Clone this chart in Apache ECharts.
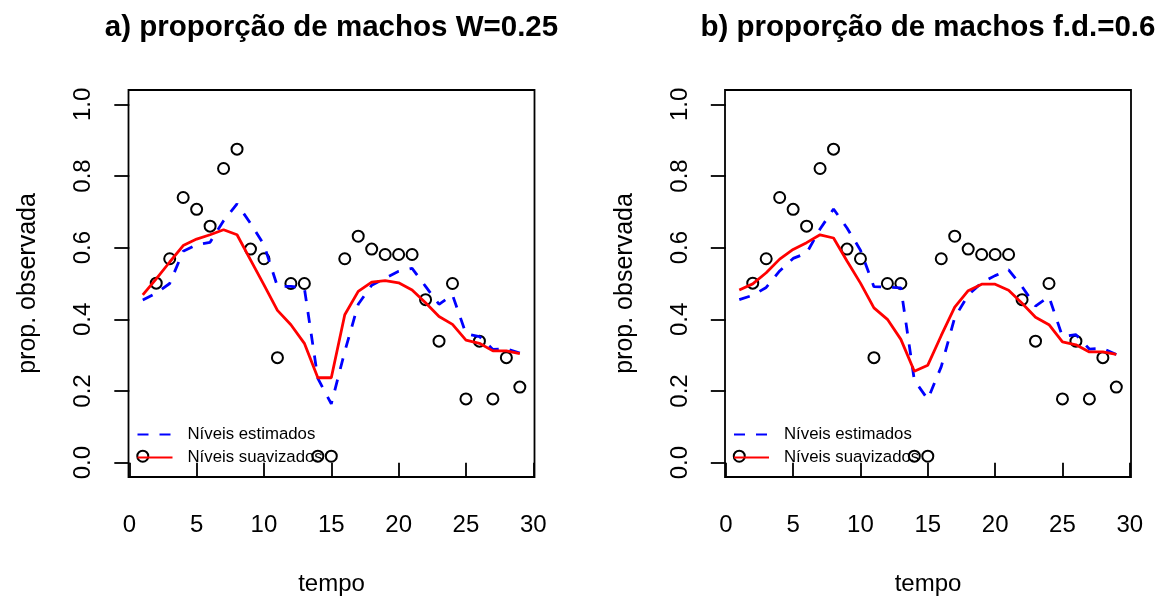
<!DOCTYPE html>
<html>
<head>
<meta charset="utf-8">
<script src="https://cdn.jsdelivr.net/npm/echarts@6/dist/echarts.min.js"></script>
<style>
html,body{margin:0;padding:0;background:#fff;}
#c{width:1159px;height:602px;}
</style>
</head>
<body>
<div id="c"></div>
<script>
// ---- data ----
const tempo = [1,2,3,4,5,6,7,8,9,10,11,12,13,14,15,16,17,18,19,20,21,22,23,24,25,26,27,28,29];
const observada = [0.018,0.501,0.569,0.740,0.707,0.660,0.821,0.875,0.596,0.569,0.293,0.500,0.500,0.018,0.018,0.569,0.632,0.596,0.581,0.581,0.581,0.455,0.339,0.500,0.178,0.339,0.178,0.293,0.211];
const estimadosA = [0.454,0.473,0.500,0.590,0.608,0.615,0.675,0.722,0.668,0.608,0.492,0.492,0.487,0.235,0.164,0.310,0.442,0.495,0.515,0.534,0.542,0.492,0.442,0.468,0.360,0.352,0.316,0.318,0.306];
const suavizadosA = [0.468,0.513,0.560,0.606,0.624,0.636,0.650,0.636,0.566,0.496,0.425,0.385,0.333,0.237,0.237,0.413,0.478,0.504,0.508,0.502,0.482,0.446,0.408,0.386,0.342,0.333,0.312,0.312,0.304];
const estimadosB = [0.455,0.467,0.489,0.535,0.570,0.585,0.652,0.708,0.655,0.593,0.491,0.490,0.488,0.230,0.177,0.268,0.405,0.468,0.502,0.522,0.538,0.491,0.437,0.463,0.352,0.357,0.317,0.319,0.302];
const suavizadosB = [0.482,0.499,0.530,0.568,0.595,0.614,0.636,0.627,0.563,0.501,0.432,0.400,0.344,0.255,0.272,0.355,0.434,0.480,0.498,0.498,0.481,0.445,0.406,0.385,0.337,0.329,0.309,0.309,0.302];
const xTicks = [0,5,10,15,20,25,30];
const yTicks = [0,0.2,0.4,0.6,0.8,1.0];
const titles = ['a) proporção de machos W=0.25','b) proporção de machos f.d.=0.6'];
const legendNames = ['Níveis estimados','Níveis suavizados'];

const FONT = '"Liberation Sans", Arial, Helvetica, sans-serif';
const pairs = arr => tempo.map((t,i)=>[t,arr[i]]);

const panels = [
  {left:128.5, est:estimadosA, smo:suavizadosA},
  {left:725, est:estimadosB, smo:suavizadosB}
];
const W = 406, TOP = 90, H = 387;
const LW = 2.8, DASH = [11,11];

const grid=[], xAxis=[], yAxis=[], series=[], title=[], legend=[];
panels.forEach((p,k)=>{
  grid.push({left:p.left, top:TOP, width:W, height:H, show:true, borderColor:'#000', borderWidth:1.8, backgroundColor:'transparent', containLabel:false});
  xAxis.push({
    type:'value', gridIndex:k, min:-0.06, max:30.09,
    splitLine:{show:false}, axisLine:{show:false},
    axisTick:{show:true, customValues:xTicks, length:15, inside:false, lineStyle:{color:'#000', width:1.8}},
    axisLabel:{show:true, customValues:xTicks, margin:48, verticalAlign:'middle', color:'#000', fontSize:24, fontFamily:FONT, formatter:v=>String(Math.round(v))},
    name:'tempo', nameLocation:'middle', nameGap:107,
    nameTextStyle:{color:'#000', fontSize:24, fontFamily:FONT, verticalAlign:'middle'}
  });
  yAxis.push({
    type:'value', gridIndex:k, min:-0.04, max:1.04,
    splitLine:{show:false}, axisLine:{show:false},
    axisTick:{show:true, customValues:yTicks, length:15, lineStyle:{color:'#000', width:1.8}},
    axisLabel:{show:true, customValues:yTicks, rotate:90, margin:45, verticalAlign:'middle', align:'center', color:'#000', fontSize:24, fontFamily:FONT, formatter:v=>v.toFixed(1)},
    name:'prop. observada', nameLocation:'middle', nameGap:100,
    nameTextStyle:{color:'#000', fontSize:25, fontFamily:FONT, verticalAlign:'middle'}
  });
  title.push({text:titles[k], left:p.left+W/2, top:13, textAlign:'center', padding:0,
    textStyle:{color:'#000', fontSize:29.5, fontWeight:'bold', fontFamily:FONT}});
  series.push({type:'scatter', name:'obs'+k, xAxisIndex:k, yAxisIndex:k, data:pairs(observada), symbol:'circle', symbolSize:11,
    itemStyle:{color:'rgba(0,0,0,0)', borderColor:'#000', borderWidth:2, opacity:1}, silent:true, z:2});
  series.push({type:'line', name:legendNames[0], xAxisIndex:k, yAxisIndex:k, data:pairs(p.est), symbol:'none', showSymbol:false,
    lineStyle:{color:'#0000ff', width:LW, type:DASH, cap:'butt'}, itemStyle:{color:'#0000ff'}, z:3, animation:false});
  series.push({type:'line', name:legendNames[1], xAxisIndex:k, yAxisIndex:k, data:pairs(p.smo), symbol:'none', showSymbol:false,
    lineStyle:{color:'#ff0000', width:LW, type:'solid'}, itemStyle:{color:'#ff0000'}, z:4, animation:false});
  legend.push({show:true, data:legendNames, orient:'vertical', left:p.left+8, top:426, itemWidth:35, itemHeight:14, itemGap:6,
    padding:0, selectedMode:false,
    itemStyle:{color:'rgba(0,0,0,0)', borderWidth:0, opacity:0},
    textStyle:{color:'#000', fontSize:16.8, fontFamily:FONT, padding:[0,0,0,10]}});
});

const chart = echarts.init(document.getElementById('c'), null, {renderer:'canvas'});
chart.setOption({backgroundColor:'#fff', animation:false, title, grid, xAxis, yAxis, series, legend});
</script>
</body>
</html>
